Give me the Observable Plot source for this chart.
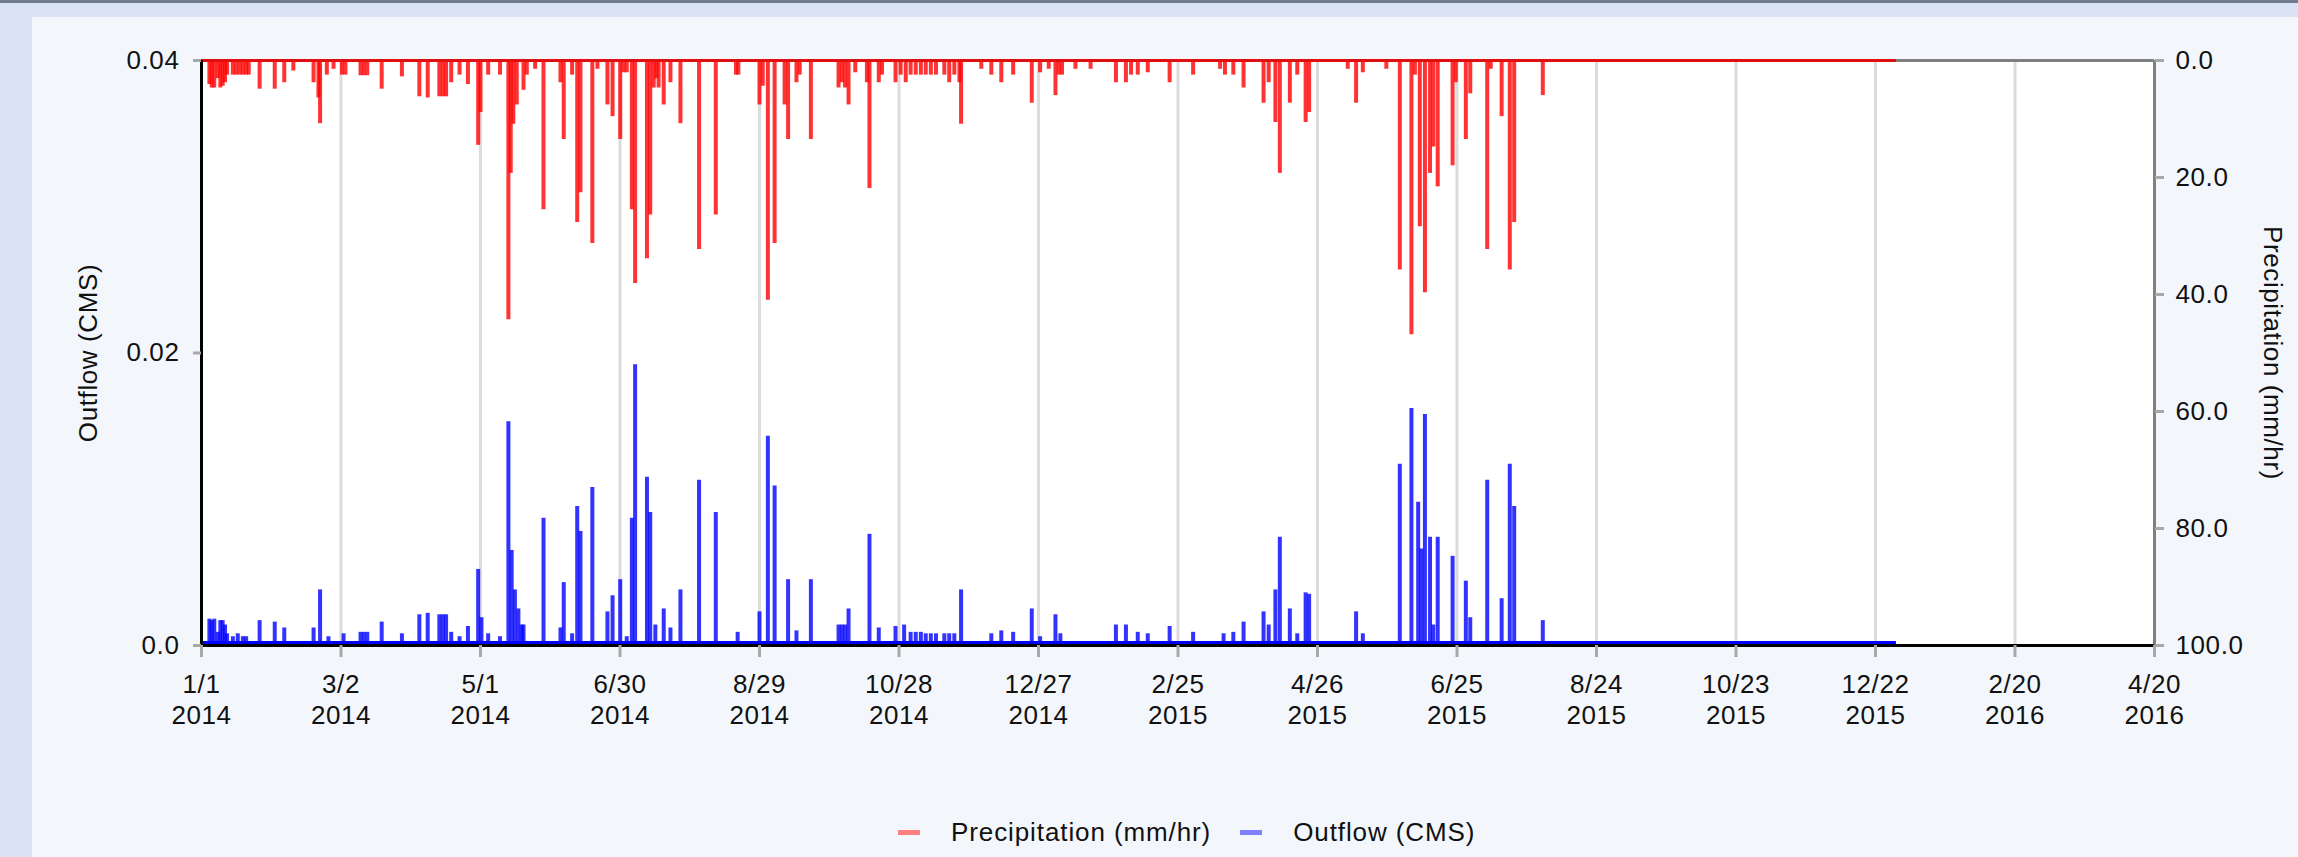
<!DOCTYPE html>
<html>
<head>
<meta charset="utf-8">
<script src="https://cdn.jsdelivr.net/npm/d3@7"></script>
<script src="https://cdn.jsdelivr.net/npm/@observablehq/plot@0.6"></script>
<style>
  html, body { margin: 0; padding: 0; }
  body { width: 2298px; height: 857px; background: #d9e2f2; overflow: hidden; position: relative;
         font-family: "Liberation Sans", Arial, sans-serif; }
  #topline { position: absolute; left: 0; top: 0; width: 2298px; height: 3px; background: #6f7a8e; }
  #panel { position: absolute; left: 32px; top: 17px; width: 2266px; height: 840px; background: #f3f7fc; }
  #chart svg { display: block; }
  #chart g[aria-label="axis-title"] { letter-spacing: 1.5px; }
  #legend { position: absolute; left: 866px; top: 800px; height: 30px; display: flex; align-items: center;
            font-size: 26px; letter-spacing: 0.9px; color: #111; white-space: nowrap; }
  #legend .sw { display: inline-block; width: 22px; height: 5px; margin-right: 31px; }
  #legend .lt { margin-right: 29px; }
</style>
</head>
<body>
<div id="topline"></div>
<div id="panel"><div id="chart"></div><div id="legend"></div></div>
<script>
// ---- data ----
const startDate = new Date("2014-01-01T00:00:00Z");
const axisEnd = new Date("2016-04-20T00:00:00Z");
const dataEnd = new Date("2015-12-31T00:00:00Z");
const outflowMax = 0.04;
const precipMax = 100;
const outflowBase = 0.0002;

const leftTicks = [0, 0.02, 0.04];
const leftTickLabels = ["0.0", "0.02", "0.04"];
const rightTicks = [0, 20, 40, 60, 80, 100];
const rightTickLabels = ["0.0", "20.0", "40.0", "60.0", "80.0", "100.0"];
const tickDates = ["2014-01-01","2014-03-02","2014-05-01","2014-06-30","2014-08-29","2014-10-28","2014-12-27",
  "2015-02-25","2015-04-26","2015-06-25","2015-08-24","2015-10-23","2015-12-22","2016-02-20","2016-04-20"];
const tickLabels = ["1/1\n2014","3/2\n2014","5/1\n2014","6/30\n2014","8/29\n2014","10/28\n2014","12/27\n2014",
  "2/25\n2015","4/26\n2015","6/25\n2015","8/24\n2015","10/23\n2015","12/22\n2015","2/20\n2016","4/20\n2016"];

const seriesNames = ["Precipitation (mm/hr)", "Outflow (CMS)"];
const seriesColors = ["#ff0000", "#0000ff"];
const legendColors = ["#ff8080", "#8080ff"];
const axisTitles = ["Outflow (CMS)", "Precipitation (mm/hr)"];

// days since 2014-01-01, precipitation in mm/hr
const precipDay = [3.4,4.4,5.5,7,8.1,9.1,10.1,11,13.5,14.9,16.4,17.8,19.2,20.3,25,31.5,35.6,39.5,48.2,50.3,51,53.9,56.8,60.4,61.9,
  68.4,69.8,71.3,77.5,86.2,93.7,97.3,102.3,103.8,105.2,107.4,111,114.6,119,120,123.3,128.4,132,133,134.1,135.6,138.5,139.9,
  143.5,147.1,154.4,155.8,159.4,161.6,163,168.1,170.3,174.6,176.8,180.1,
  181.5,182.9,185.1,186.5,191.6,193,194.5,195.6,196.6,198.8,201.7,206,214,221.2,229.9,230.9,240,241.4,243.6,246.5,250.8,252.3,
  255.9,257.3,262.1,274,275.4,276.8,278.3,281.2,286.2,287.3,291.3,292.7,298.5,300.7,302.9,305,307.2,309.4,311.5,313.7,315.9,
  319.5,321.6,323.8,326,326.7,335.4,339.7,344,349.1,357.1,360.7,
  364.4,367.3,368.7,370.1,375.9,382.4,393.3,397.6,399.8,402.7,407,416.4,426.5,438.1,440.2,443.8,448.2,456.8,459,461.9,463.8,
  468.1,471.3,474.9,476.4,493,496.6,499.5,509.6,515.4,520.4,521.9,524,526.2,528.4,529.8,531.7,538.1,539.5,543.8,545.7,
  553,554.5,559.2,562.7,564.6,576.9];
const precipValue = [4.1,4.7,4.7,3.1,4.7,4.4,3.8,2.5,2.5,2.5,2.5,2.5,2.5,2.5,4.9,4.9,3.8,1.8,3.8,6.4,10.8,2.5,1.5,2.5,2.5,
  2.6,2.6,2.6,4.9,2.8,6.2,6.4,6.2,6.2,6.2,3.8,2.5,4.1,14.5,8.9,2.5,2.5,44.3,19.3,10.9,7.6,5.1,2.5,
  1.5,25.5,3.8,13.5,2.5,27.7,22.6,31.3,1.5,7.6,9.6,13.5,
  2.1,2.1,25.5,38.1,33.9,26.4,4.7,3.1,4.7,7.6,3.8,10.8,32.3,26.4,2.5,2.5,7.6,4.4,41,31.3,7.6,13.5,
  3.8,2.5,13.5,4.7,3.8,4.7,7.6,2.1,3.8,21.9,3.8,2.5,3.8,2.5,3.8,2.5,2.5,2.5,2.5,2.5,2.5,
  2.5,3.8,2.5,3.8,10.9,1.5,2.5,3.8,2.5,7.3,2.1,
  1.5,6.0,2.5,2.5,1.5,1.5,3.8,3.8,2.5,2.5,2.1,3.8,2.5,1.5,2.5,2.5,4.7,7.3,3.8,10.6,19.3,
  7.3,2.5,10.6,8.9,1.5,7.3,2.1,1.5,35.8,46.9,2.5,28.4,39.7,19.3,14.8,21.6,18.0,3.8,13.5,5.7,
  32.3,1.5,9.6,35.8,27.7,6.0];

// days since 2014-01-01, outflow in CMS
const outflowDay = [3.4,4.4,5.5,7,8.1,9.1,10.1,11,13.5,15.6,17.8,19.2,25,31.5,35.6,48.2,51,54.6,61.1,68.4,69.8,71.3,77.5,86.2,
  93.7,97.3,102.3,103.8,105.2,107.4,111,114.6,119,120.4,123.3,128.4,132,133.4,134.8,136.3,137.7,138.5,147.1,154.4,155.8,
  159.4,161.6,163,168.1,174.6,176.8,180.1,
  182.9,185.1,186.5,191.6,193,195.2,198.8,201.7,206,214,221.2,230.6,240,243.6,246.5,252.3,255.9,262.1,274,275.4,276.8,278.3,
  287.3,291.3,298.5,302.2,305,307.2,309.4,311.5,313.7,315.9,319.5,321.6,323.8,326.7,339.7,344,349.1,357.1,360.7,
  367.3,369.4,393.3,397.6,402.7,407,416.4,426.5,439.6,443.8,448.2,456.8,459,461.9,463.8,468.1,471.3,474.9,476.4,496.6,499.5,
  515.4,520.4,523.3,524.7,526.2,528.4,529.8,531.7,538.1,543.8,545.7,
  553,559.2,562.7,564.6,576.9];
const outflowValue = [0.0018,0.0017,0.0018,0.0009,0.0017,0.0017,0.0014,0.0008,0.0006,0.0008,0.0006,0.0006,0.0017,0.0016,0.0012,
  0.0012,0.0038,0.0006,0.0008,0.0009,0.0009,0.0009,0.0016,0.0008,
  0.0021,0.0022,0.0021,0.0021,0.0021,0.0009,0.0006,0.0013,0.0052,0.0019,0.0008,0.0006,0.0153,0.0065,0.0038,0.0025,0.0014,
  0.0014,0.0087,0.0012,0.0043,0.0008,0.0095,0.0078,0.0108,0.0023,0.0034,0.0045,
  0.0006,0.0087,0.0192,0.0115,0.0091,0.0014,0.0025,0.0012,0.0038,0.0113,0.0091,0.0009,0.0023,0.0143,0.0109,0.0045,0.001,
  0.0045,0.0014,0.0014,0.0014,0.0025,
  0.0076,0.0012,0.0013,0.0014,0.0009,0.0009,0.0009,0.0008,0.0008,0.0008,0.0008,0.0008,0.0008,0.0038,0.0008,0.001,0.0009,
  0.0025,0.0006,
  0.0021,0.0008,0.0014,0.0014,0.0009,0.0008,0.0013,0.0009,0.0008,0.0009,0.0016,0.0023,0.0014,0.0038,0.0074,0.0025,0.0008,
  0.0036,0.0035,0.0023,0.0008,
  0.0124,0.0162,0.0098,0.0066,0.0158,0.0074,0.0014,0.0074,0.0061,0.0044,0.0019,
  0.0113,0.0032,0.0124,0.0095,0.0017];

// ---- build ----
const dayToDate = d => new Date(startDate.getTime() + d * 864e5);
const precipToY = p => outflowMax - p / precipMax * outflowMax;
const precip = precipDay.map((d, i) => ({date: dayToDate(d), value: precipValue[i]}));
const outflow = outflowDay.map((d, i) => ({date: dayToDate(d), value: outflowValue[i]}));
const ticks = tickDates.map(s => new Date(s + "T00:00:00Z"));
const xLabelOf = new Map(ticks.map((d, i) => [+d, tickLabels[i]]));
const leftLabelOf = new Map(leftTicks.map((v, i) => [v, leftTickLabels[i]]));
const rightTickY = rightTicks.map(precipToY);
const rightLabelOf = new Map(rightTickY.map((v, i) => [v, rightTickLabels[i]]));

const tickStroke = "#a8a8a8";
const chart = Plot.plot({
  width: 2266,
  height: 700,
  marginLeft: 169,
  marginRight: 144,
  marginTop: 43,
  marginBottom: 72,
  style: {background: "transparent", fontFamily: "'Liberation Sans', Arial, sans-serif", fontSize: "26px",
          letterSpacing: "0.6px", color: "#111", overflow: "visible"},
  x: {type: "utc", domain: [startDate, axisEnd], label: null},
  y: {domain: [0, outflowMax], label: null},
  marks: [
    Plot.frame({fill: "white", stroke: null}),
    Plot.ruleX(ticks.slice(1, -1), {stroke: "#dcdcdc", strokeWidth: 3}),
    Plot.ruleY([outflowMax], {stroke: "#7f7f7f", strokeWidth: 3}),
    Plot.ruleX([axisEnd], {stroke: "#7f7f7f", strokeWidth: 3}),
    Plot.ruleY([outflowBase], {x1: () => startDate, x2: () => dataEnd, stroke: seriesColors[1], strokeWidth: 3}),
    Plot.ruleX(outflow, {x: "date", y1: () => 0, y2: "value", stroke: seriesColors[1], strokeWidth: 4, strokeOpacity: 0.8}),
    Plot.ruleX(precip, {x: "date", y1: () => outflowMax, y2: d => precipToY(d.value), stroke: seriesColors[0], strokeWidth: 4, strokeOpacity: 0.8}),
    Plot.ruleY([0], {y: p => precipToY(p), x1: () => startDate, x2: () => dataEnd, stroke: "#e01010", strokeWidth: 3}),
    Plot.ruleX([startDate], {stroke: "#000", strokeWidth: 3}),
    Plot.ruleY([0], {stroke: "#000", strokeWidth: 3}),
    Plot.axisX(ticks, {anchor: "bottom", tickFormat: d => xLabelOf.get(+d), tickSize: 12, tickPadding: 13,
      stroke: tickStroke, strokeWidth: 3, fill: "#111", lineHeight: 1.2, label: null}),
    Plot.axisY(leftTicks, {anchor: "left", tickFormat: d => leftLabelOf.get(d), tickSize: 8, tickPadding: 14,
      stroke: tickStroke, strokeWidth: 3, fill: "#111", label: null}),
    Plot.axisY(rightTickY, {anchor: "right", tickFormat: d => rightLabelOf.get(d), tickSize: 9, tickPadding: 12,
      stroke: tickStroke, strokeWidth: 3, fill: "#111", label: null}),
    Plot.text([axisTitles[0]], {text: d => d, frameAnchor: "left", dx: -113, rotate: -90, textAnchor: "middle",
      lineAnchor: "middle", fill: "#111", ariaLabel: "axis-title"}),
    Plot.text([axisTitles[1]], {text: d => d, frameAnchor: "right", dx: 118, rotate: 90, textAnchor: "middle",
      lineAnchor: "middle", fill: "#111", ariaLabel: "axis-title"})
  ]
});
document.getElementById("chart").appendChild(chart);

const legend = document.getElementById("legend");
seriesNames.forEach((name, i) => {
  const sw = document.createElement("span");
  sw.className = "sw";
  sw.style.background = legendColors[i];
  const lt = document.createElement("span");
  lt.className = "lt";
  lt.textContent = name;
  legend.appendChild(sw);
  legend.appendChild(lt);
});
</script>
</body>
</html>
